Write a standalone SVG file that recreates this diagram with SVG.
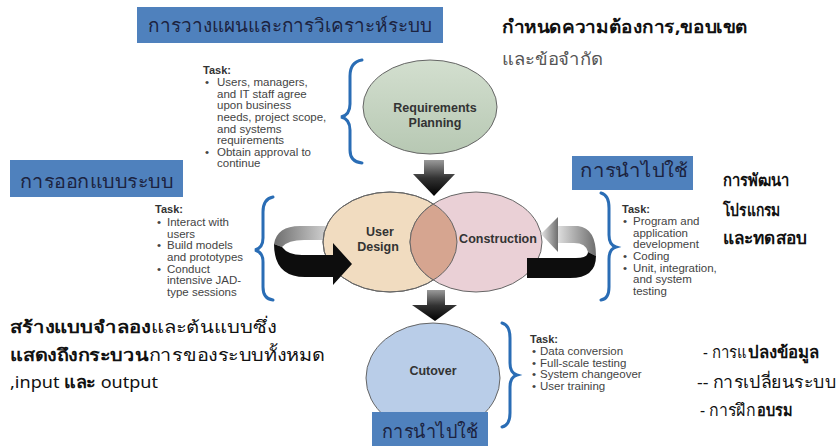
<svg xmlns="http://www.w3.org/2000/svg" width="836" height="446" viewBox="0 0 836 446">
<defs>
<style>
.box{fill:#4f81bd;}
.bt{font-family:"Noto Sans","DejaVu Sans",sans-serif;font-size:19px;fill:#1c2340;}
.th{font-family:"Noto Sans","DejaVu Sans",sans-serif;font-size:17px;fill:#111;}
.b{font-weight:bold;}
.task{font-family:"Liberation Sans",Arial,sans-serif;font-size:11.5px;fill:#444;}
.tk{font-weight:bold;font-size:11px;fill:#333;}
.lbl{font-family:"Liberation Sans",Arial,sans-serif;font-size:12.5px;font-weight:bold;fill:#333;text-anchor:middle;}
.brace{fill:none;stroke:#2a6db5;stroke-width:3;stroke-linecap:round;}
.ring{stroke:#666;stroke-width:1;}
</style>
<linearGradient id="gReq" x1="0" y1="0" x2="0" y2="1"><stop offset="0" stop-color="#d3dfcf"/><stop offset="1" stop-color="#b7c8b3"/></linearGradient>
<linearGradient id="gArr" x1="0" y1="0" x2="0" y2="1"><stop offset="0" stop-color="#9a9a9a"/><stop offset="0.5" stop-color="#333"/><stop offset="1" stop-color="#000"/></linearGradient>
<linearGradient id="gGrayL" x1="1" y1="0" x2="0" y2="0"><stop offset="0" stop-color="#e6e6e6"/><stop offset="1" stop-color="#6e6e6e"/></linearGradient>
<linearGradient id="gGrayR" x1="0" y1="0" x2="1" y2="0"><stop offset="0" stop-color="#e6e6e6"/><stop offset="1" stop-color="#6e6e6e"/></linearGradient>
<clipPath id="cUD"><ellipse cx="390" cy="242" rx="67" ry="50"/></clipPath>
</defs>
<rect width="836" height="446" fill="#ffffff"/>

<g id="connectors">
<path d="M424 160 H444 V174 H455 L434 196 L413 174 H424 Z" fill="url(#gArr)"/>
<path d="M427 290 H445 V305 H457 L435 321 L412 305 H427 Z" fill="url(#gArr)"/>
<path d="M338 226 H300 Q277 226 274 244 L282 247 Q288 240 304 240 H338 Z" fill="url(#gGrayL)"/>
<path d="M555 226 H578 Q596 228 596 256 L588 252 Q586 243 574 243 H555 Z" fill="url(#gGrayR)"/>
</g>

<g id="node-requirements">
<ellipse cx="430" cy="107" rx="67" ry="47" fill="url(#gReq)" class="ring"/>
<text class="lbl" x="435" y="112">Requirements</text>
<text class="lbl" x="435" y="127">Planning</text>
</g>

<g id="node-userdesign">
<ellipse cx="390" cy="242" rx="67" ry="50" fill="#f1dcc0" class="ring"/>
</g>
<g id="node-construction">
<ellipse cx="476" cy="242" rx="66" ry="50" fill="#ead0d6" class="ring"/>
<ellipse cx="476" cy="242" rx="66" ry="50" fill="#d6a590" clip-path="url(#cUD)" class="ring"/>
<ellipse cx="390" cy="242" rx="67" ry="50" fill="none" class="ring"/>
<text class="lbl" x="380" y="236">User</text>
<text class="lbl" x="378" y="251">Design</text>
<text class="lbl" x="498" y="243">Construction</text>
</g>

<g id="loop-arrows">
<path d="M274 244 Q274 277 305 277 H333 V285 L352 264 L333 243 V255 H302 Q288 255 282 247 Z" fill="#0d0d0d"/>
<path d="M558 217 L541 234 L558 252 Z" fill="url(#gGrayR)"/>
<path d="M527 258 H576 Q588 258 588 252 L596 256 Q596 278 570 278 H527 Z" fill="#0d0d0d"/>
</g>

<g id="node-cutover">
<ellipse cx="433" cy="378" rx="67" ry="55" fill="#b9cde8" class="ring"/>
<text class="lbl" x="433" y="375">Cutover</text>
</g>

<g id="braces">
<path class="brace" d="M362 60 Q350 62 350 76 L350 104 Q350 115 341 117 Q350 119 350 130 L350 150 Q350 162 362 163"/>
<path class="brace" d="M273 197 Q263 199 263 212 L263 238 Q263 248 255 250 Q263 252 263 262 L263 287 Q263 299 273 300"/>
<path class="brace" d="M601 193 Q609 195 609 208 L609 235 Q609 245 616 247 Q609 249 609 259 L609 287 Q609 299 601 300"/>
<path class="brace" d="M502 323 Q510 325 510 338 L510 363 Q510 373 517 375 Q510 377 510 387 L510 413 Q510 425 502 427"/>
</g>

<g id="tasks" class="task">
<text x="203" y="74" class="tk">Task:</text>
<text x="205" y="86">•</text><text x="217" y="86">Users, managers,</text>
<text x="217" y="97.5">and IT staff agree</text>
<text x="217" y="109">upon business</text>
<text x="217" y="121">needs, project scope,</text>
<text x="217" y="132.5">and systems</text>
<text x="217" y="144">requirements</text>
<text x="205" y="155.5">•</text><text x="217" y="155.5">Obtain approval to</text>
<text x="217" y="167">continue</text>

<text x="155" y="213" class="tk">Task:</text>
<text x="157" y="226">•</text><text x="167" y="226">Interact with</text>
<text x="167" y="237.5">users</text>
<text x="157" y="249">•</text><text x="167" y="249">Build models</text>
<text x="167" y="261">and prototypes</text>
<text x="157" y="272.5">•</text><text x="167" y="272.5">Conduct</text>
<text x="167" y="284">intensive JAD-</text>
<text x="167" y="296">type sessions</text>

<text x="622" y="213" class="tk">Task:</text>
<text x="623" y="225">•</text><text x="633" y="225">Program and</text>
<text x="633" y="236.5">application</text>
<text x="633" y="248">development</text>
<text x="623" y="260">•</text><text x="633" y="260">Coding</text>
<text x="623" y="271.5">•</text><text x="633" y="271.5">Unit, integration,</text>
<text x="633" y="283">and system</text>
<text x="633" y="295">testing</text>

<text x="530" y="343" class="tk">Task:</text>
<text x="532" y="355">•</text><text x="540" y="355">Data conversion</text>
<text x="532" y="366.5">•</text><text x="540" y="366.5">Full-scale testing</text>
<text x="532" y="378">•</text><text x="540" y="378">System changeover</text>
<text x="532" y="390">•</text><text x="540" y="390">User training</text>
</g>

<g id="label-planning">
<rect class="box" x="137" y="7" width="306" height="36"/>
<text class="bt" x="148" y="32" textLength="284" lengthAdjust="spacingAndGlyphs">การวางแผนและการวิเคราะห์ระบบ</text>
</g>
<g id="label-design">
<rect class="box" x="10" y="160" width="173" height="37"/>
<text class="bt" x="20" y="188" textLength="153" lengthAdjust="spacingAndGlyphs">การออกแบบระบบ</text>
</g>
<g id="label-implement-top">
<rect class="box" x="572" y="156" width="121" height="34"/>
<text class="bt" x="580" y="177" textLength="108" lengthAdjust="spacingAndGlyphs">การนำไปใช้</text>
</g>
<g id="label-implement-bottom">
<rect class="box" x="372" y="412" width="116" height="34"/>
<text class="bt" x="382" y="438" textLength="96" lengthAdjust="spacingAndGlyphs">การนำไปใช้</text>
</g>

<g id="notes" class="th">
<text x="502" y="33" class="b" font-size="18" textLength="246" lengthAdjust="spacingAndGlyphs">กำหนดความต้องการ,ขอบเขต</text>
<text x="502" y="65" fill="#555" textLength="101" lengthAdjust="spacingAndGlyphs">และข้อจำกัด</text>
<text x="723" y="186" class="b" textLength="67" lengthAdjust="spacingAndGlyphs">การพัฒนา</text>
<text x="723" y="216" class="b" textLength="57" lengthAdjust="spacingAndGlyphs">โปรแกรม</text>
<text x="723" y="244" class="b" textLength="84" lengthAdjust="spacingAndGlyphs">และทดสอบ</text>
<text x="10" y="333" textLength="267" lengthAdjust="spacingAndGlyphs"><tspan class="b">สร้างแบบจำลอง</tspan>และต้นแบบซึ่ง</text>
<text x="10" y="361" textLength="315" lengthAdjust="spacingAndGlyphs"><tspan class="b">แสดงถึงกระบวน</tspan>การของระบบทั้งหมด</text>
<text x="10" y="388" textLength="148" lengthAdjust="spacingAndGlyphs">,input <tspan class="b">และ</tspan> output</text>
<text x="703" y="358" textLength="44" lengthAdjust="spacingAndGlyphs">- การแ</text>
<text x="748" y="358" class="b" textLength="71" lengthAdjust="spacingAndGlyphs">ปลงข้อมูล</text>
<text x="697" y="388" textLength="139" lengthAdjust="spacingAndGlyphs">-- การเปลี่ยนระบบ</text>
<text x="700" y="416" textLength="55" lengthAdjust="spacingAndGlyphs">- การฝึก</text>
<text x="757" y="416" class="b" textLength="35" lengthAdjust="spacingAndGlyphs">อบรม</text>
</g>
</svg>
